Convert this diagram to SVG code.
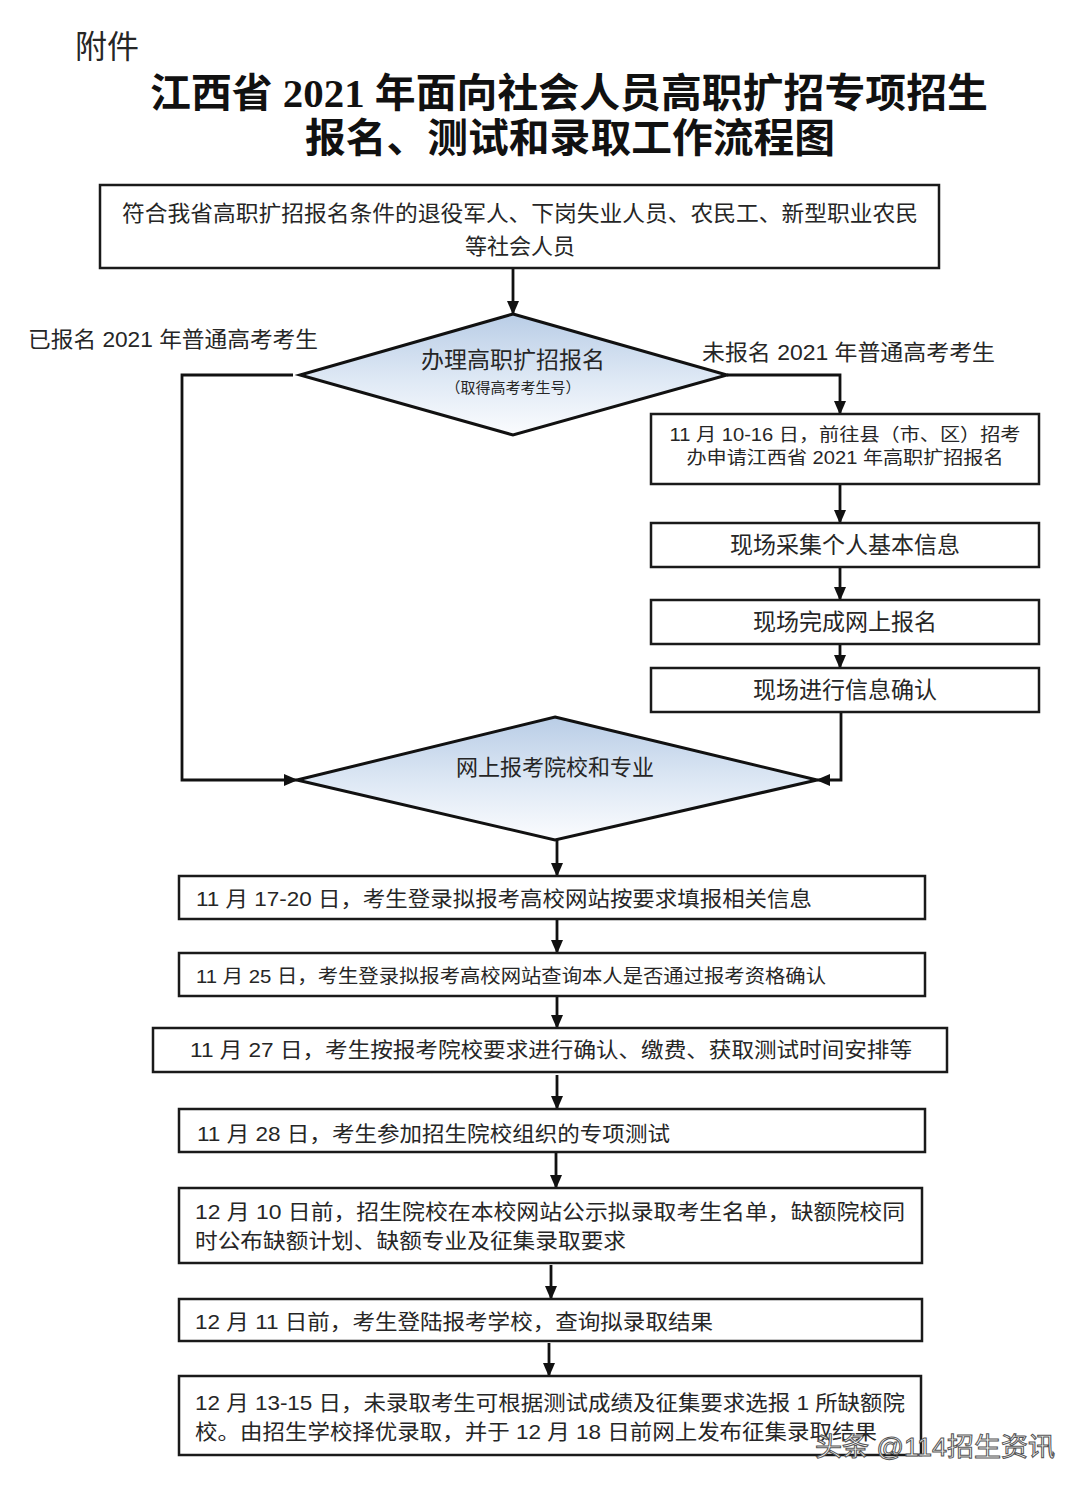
<svg xmlns="http://www.w3.org/2000/svg" width="1080" height="1487" viewBox="0 0 1080 1487">
<defs>
<linearGradient id="dg" x1="0" y1="0" x2="0" y2="1">
<stop offset="0" stop-color="#b9cde6"/>
<stop offset="0.55" stop-color="#dfe9f5"/>
<stop offset="1" stop-color="#fbfcfe"/>
</linearGradient>
<marker id="ah" markerUnits="userSpaceOnUse" markerWidth="14" markerHeight="14" viewBox="0 0 14 14" refX="13" refY="7" orient="auto">
<path d="M0,1 L14,7 L0,13 Z" fill="#111"/>
</marker>
<style>
.box{fill:#fff;stroke:#1a1a1a;stroke-width:2.5}
.dia{fill:url(#dg);stroke:#111;stroke-width:3}
.ln{fill:none;stroke:#111;stroke-width:2.8}
.t{font-family:"Liberation Sans","Noto Sans CJK SC",sans-serif;fill:#262626}
.c{text-anchor:middle}
.ti{font-family:"Liberation Serif","Noto Sans CJK SC",serif;font-weight:bold;fill:#111;text-anchor:middle}
</style>
</defs>
<rect width="1080" height="1487" fill="#fff"/>

<g id="header">
<text class="t" x="75" y="58" font-size="32" fill="#111">附件</text>
<text class="ti" x="569" y="107" font-size="40" textLength="838" lengthAdjust="spacingAndGlyphs">江西省 2021 年面向社会人员高职扩招专项招生</text>
<text class="ti" x="570" y="152" font-size="40" textLength="530" lengthAdjust="spacingAndGlyphs">报名、测试和录取工作流程图</text>
</g>

<g id="connectors">
<path class="ln" d="M513,268 V314" marker-end="url(#ah)"/>
<path class="ln" d="M293,375 H182 V780 H297" marker-end="url(#ah)"/>
<path class="ln" d="M727,375 H840 V414" marker-end="url(#ah)"/>
<path class="ln" d="M840,484 V523" marker-end="url(#ah)"/>
<path class="ln" d="M840,567 V600" marker-end="url(#ah)"/>
<path class="ln" d="M840,644 V668" marker-end="url(#ah)"/>
<path class="ln" d="M841,712 V780 H817" marker-end="url(#ah)"/>
<path class="ln" d="M557,840 V876" marker-end="url(#ah)"/>
<path class="ln" d="M557,919 V953" marker-end="url(#ah)"/>
<path class="ln" d="M557,996 V1028" marker-end="url(#ah)"/>
<path class="ln" d="M557,1075 V1109" marker-end="url(#ah)"/>
<path class="ln" d="M556,1152 V1188" marker-end="url(#ah)"/>
<path class="ln" d="M551,1265 V1299" marker-end="url(#ah)"/>
<path class="ln" d="M549,1343 V1376" marker-end="url(#ah)"/>
</g>

<g id="label-yes">
<text class="t" x="28" y="347" font-size="22" fill="#111" textLength="290" lengthAdjust="spacingAndGlyphs">已报名 2021 年普通高考考生</text>
</g>
<g id="label-no">
<text class="t" x="702" y="360" font-size="22" fill="#111" textLength="293" lengthAdjust="spacingAndGlyphs">未报名 2021 年普通高考考生</text>
</g>

<g id="n-start">
<rect class="box" x="100" y="185" width="839" height="83"/>
<text class="t c" x="520" y="221" font-size="22" textLength="796" lengthAdjust="spacingAndGlyphs">符合我省高职扩招报名条件的退役军人、下岗失业人员、农民工、新型职业农民</text>
<text class="t c" x="520" y="254" font-size="22">等社会人员</text>
</g>

<g id="n-register">
<polygon class="dia" points="513,314 727,375 513,435 300,375"/>
<text class="t c" x="513" y="368" font-size="23">办理高职扩招报名</text>
<text class="t c" x="513" y="393" font-size="15">（取得高考考生号）</text>
</g>

<g id="n-apply">
<rect class="box" x="651" y="414" width="388" height="70"/>
<text class="t c" x="845" y="441" font-size="18" textLength="351" lengthAdjust="spacingAndGlyphs">11 月 10-16 日，前往县（市、区）招考</text>
<text class="t c" x="845" y="464" font-size="18" textLength="317" lengthAdjust="spacingAndGlyphs">办申请江西省 2021 年高职扩招报名</text>
</g>

<g id="n-collect">
<rect class="box" x="651" y="523" width="388" height="44"/>
<text class="t c" x="845" y="553" font-size="23">现场采集个人基本信息</text>
</g>

<g id="n-online">
<rect class="box" x="651" y="600" width="388" height="44"/>
<text class="t c" x="845" y="630" font-size="23">现场完成网上报名</text>
</g>

<g id="n-confirm">
<rect class="box" x="651" y="668" width="388" height="44"/>
<text class="t c" x="845" y="698" font-size="23">现场进行信息确认</text>
</g>

<g id="n-choose">
<polygon class="dia" points="555,717 817,780 555,840 297,780"/>
<text class="t c" x="555" y="775" font-size="22">网上报考院校和专业</text>
</g>

<g id="n-s1">
<rect class="box" x="179" y="876" width="746" height="43"/>
<text class="t" x="196" y="906" font-size="21" textLength="616" lengthAdjust="spacingAndGlyphs">11 月 17-20 日，考生登录拟报考高校网站按要求填报相关信息</text>
</g>

<g id="n-s2">
<rect class="box" x="179" y="953" width="746" height="43"/>
<text class="t" x="196" y="983" font-size="19" textLength="630" lengthAdjust="spacingAndGlyphs">11 月 25 日，考生登录拟报考高校网站查询本人是否通过报考资格确认</text>
</g>

<g id="n-s3">
<rect class="box" x="153" y="1028" width="794" height="44"/>
<text class="t" x="190" y="1057" font-size="21" textLength="722" lengthAdjust="spacingAndGlyphs">11 月 27 日，考生按报考院校要求进行确认、缴费、获取测试时间安排等</text>
</g>

<g id="n-s4">
<rect class="box" x="179" y="1109" width="746" height="43"/>
<text class="t" x="197" y="1141" font-size="21" textLength="473" lengthAdjust="spacingAndGlyphs">11 月 28 日，考生参加招生院校组织的专项测试</text>
</g>

<g id="n-s5">
<rect class="box" x="179" y="1188" width="743" height="75"/>
<text class="t" x="195" y="1219" font-size="21" textLength="710" lengthAdjust="spacingAndGlyphs">12 月 10 日前，招生院校在本校网站公示拟录取考生名单，缺额院校同</text>
<text class="t" x="195" y="1248" font-size="21" textLength="431" lengthAdjust="spacingAndGlyphs">时公布缺额计划、缺额专业及征集录取要求</text>
</g>

<g id="n-s6">
<rect class="box" x="179" y="1299" width="743" height="42"/>
<text class="t" x="195" y="1329" font-size="21" textLength="518" lengthAdjust="spacingAndGlyphs">12 月 11 日前，考生登陆报考学校，查询拟录取结果</text>
</g>

<g id="n-s7">
<rect class="box" x="179" y="1376" width="742" height="79"/>
<text class="t" x="195" y="1410" font-size="21" textLength="710" lengthAdjust="spacingAndGlyphs">12 月 13-15 日，未录取考生可根据测试成绩及征集要求选报 1 所缺额院</text>
<text class="t" x="195" y="1439" font-size="21" textLength="682" lengthAdjust="spacingAndGlyphs">校。由招生学校择优录取，并于 12 月 18 日前网上发布征集录取结果</text>
</g>

<g id="watermark">
<text x="815" y="1456" font-family="Liberation Sans,'Noto Sans CJK SC',sans-serif" font-size="26" fill="#fff" stroke="#555" stroke-width="1" textLength="240" lengthAdjust="spacingAndGlyphs">头条 @114招生资讯</text>
</g>
</svg>
